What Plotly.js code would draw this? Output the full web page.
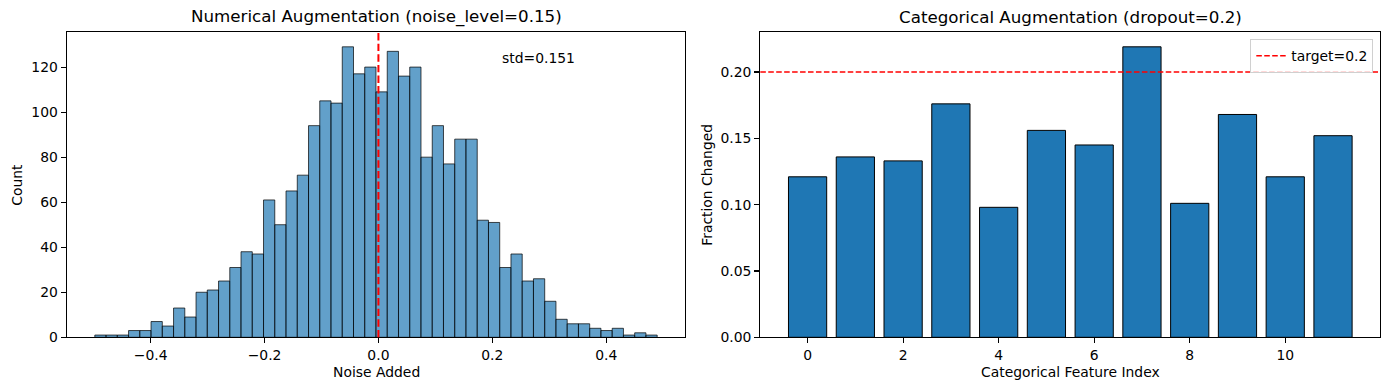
<!DOCTYPE html>
<html>
<head>
<meta charset="utf-8">
<script src="https://cdn.plot.ly/plotly-3.0.1.min.js"></script>
<style>
  html, body { margin: 0; padding: 0; background: #fff; }
  #chart { width: 1389px; height: 390px; }
</style>
</head>
<body>
<div id="chart"></div>
<script>
// ---- Data ----
// Left: histogram of noise added (50 bins)
const noiseBinStart = -0.498;
const noiseBinWidth = 0.01975;
const noiseCounts = [1,1,1,3,3,7,5,13,9,20,21,25,31,38,37,61,50,65,72,94,105,104,129,117,120,
                     109,127,116,120,80,94,77,88,88,52,51,31,37,25,26,16,8,6,6,4,3,4,1,2,1];
const noiseStdLabel = "std=0.151";
const noiseLevel = 0.15;

// Right: fraction changed per categorical feature
const catFeatureIndex = [0,1,2,3,4,5,6,7,8,9,10,11];
const fractionChanged = [0.121,0.136,0.133,0.176,0.098,0.156,0.145,0.219,0.101,0.168,0.121,0.152];
const dropoutTarget = 0.2;

// ---- Derived bin centres ----
const noiseBinCenters = noiseCounts.map((_, i) => noiseBinStart + (i + 0.5) * noiseBinWidth);
const noiseMin = noiseBinStart, noiseMax = noiseBinStart + noiseCounts.length * noiseBinWidth;
const noiseSpan = noiseMax - noiseMin;
const maxCount = Math.max(...noiseCounts);
const maxFrac = Math.max(...fractionChanged);

const FONT = "DejaVu Sans, Liberation Sans, sans-serif";
const W = 1389, H = 390;
const dom1 = [66.7 / W, 685.3 / W];
const dom2 = [760.3 / W, 1380.3 / W];
const ydom = [(H - 337.3) / H, (H - 32.3) / H];

const axisCommon = {
  showline: true, mirror: true, linecolor: "#000", linewidth: 1.1,
  ticks: "outside", ticklen: 5, tickwidth: 1.1, tickcolor: "#000",
  showgrid: false, zeroline: false,
  tickfont: { family: FONT, size: 13.9, color: "#000" },
  fixedrange: true
};

const traces = [
  {
    type: "bar", x: noiseBinCenters, y: noiseCounts, width: noiseBinWidth,
    xaxis: "x", yaxis: "y", showlegend: false,
    marker: { color: "rgba(31,119,180,0.7)", line: { color: "rgba(0,0,0,0.7)", width: 1 } },
    hoverinfo: "x+y"
  },
  {
    type: "bar", x: catFeatureIndex, y: fractionChanged, width: 0.8,
    xaxis: "x2", yaxis: "y2", showlegend: false,
    marker: { color: "#1f77b4", line: { color: "#000", width: 1 } },
    hoverinfo: "x+y"
  }
];

const layout = {
  width: W, height: H,
  margin: { l: 0, r: 0, t: 0, b: 0 },
  paper_bgcolor: "#fff", plot_bgcolor: "#fff",
  bargap: 0,
  font: { family: FONT, color: "#000" },
  showlegend: true,
  xaxis: Object.assign({}, axisCommon, {
    domain: dom1, anchor: "y",
    range: [noiseMin - 0.05 * noiseSpan, noiseMax + 0.05 * noiseSpan],
    tickvals: [-0.4, -0.2, 0.0, 0.2, 0.4], tickformat: ".1f"
  }),
  yaxis: Object.assign({}, axisCommon, {
    domain: ydom, anchor: "x",
    range: [0, maxCount * 1.05],
    tickvals: [0, 20, 40, 60, 80, 100, 120]
  }),
  xaxis2: Object.assign({}, axisCommon, {
    domain: dom2, anchor: "y2",
    range: [-0.4 - 0.59, 11.4 + 0.59],
    tickvals: [0, 2, 4, 6, 8, 10]
  }),
  yaxis2: Object.assign({}, axisCommon, {
    domain: ydom, anchor: "x2",
    range: [0, maxFrac * 1.05],
    tickvals: [0, 0.05, 0.10, 0.15, 0.20], tickformat: ".2f"
  }),
  shapes: [
    {
      type: "line", xref: "x", yref: "y domain", x0: 0, x1: 0, y0: 0, y1: 1,
      line: { color: "red", width: 2, dash: "7.4px,3.2px" }, layer: "above"
    },
    {
      type: "line", xref: "x2 domain", yref: "y2", x0: 0, x1: 1, y0: dropoutTarget, y1: dropoutTarget,
      line: { color: "red", width: 1.5, dash: "5.55px,2.4px" }, layer: "above",
      showlegend: true, name: "target=" + dropoutTarget
    }
  ],
  legend: {
    x: 1373.3 / W, xanchor: "right", y: (H - 39.3) / H, yanchor: "top",
    bgcolor: "rgba(255,255,255,0.8)", bordercolor: "#d0d0d0", borderwidth: 1,
    font: { family: FONT, size: 13.9, color: "#000" },
    itemwidth: 30, tracegroupgap: 0
  },
  annotations: [
    {
      text: "Numerical Augmentation (noise_level=" + noiseLevel + ")",
      xref: "paper", yref: "paper", x: (dom1[0] + dom1[1]) / 2, y: ydom[1],
      xanchor: "center", yanchor: "bottom", yshift: 3, showarrow: false,
      font: { family: FONT, size: 16.7, color: "#000" }
    },
    {
      text: "Categorical Augmentation (dropout=" + dropoutTarget + ")",
      xref: "paper", yref: "paper", x: (dom2[0] + dom2[1]) / 2, y: ydom[1],
      xanchor: "center", yanchor: "bottom", yshift: 3, showarrow: false,
      font: { family: FONT, size: 16.7, color: "#000" }
    },
    {
      text: noiseStdLabel, xref: "x domain", yref: "y domain", x: 0.7, y: 0.95,
      xanchor: "left", yanchor: "top", showarrow: false,
      font: { family: FONT, size: 13.9, color: "#000" }
    },
    {
      text: "Noise Added", xref: "paper", yref: "paper", x: (dom1[0] + dom1[1]) / 2, y: (H - 372) / H,
      xanchor: "center", yanchor: "middle", showarrow: false,
      font: { family: FONT, size: 13.9, color: "#000" }
    },
    {
      text: "Categorical Feature Index", xref: "paper", yref: "paper", x: (dom2[0] + dom2[1]) / 2, y: (H - 372) / H,
      xanchor: "center", yanchor: "middle", showarrow: false,
      font: { family: FONT, size: 13.9, color: "#000" }
    },
    {
      text: "Count", xref: "paper", yref: "paper", x: 17 / W, y: (ydom[0] + ydom[1]) / 2,
      xanchor: "center", yanchor: "middle", textangle: -90, showarrow: false,
      font: { family: FONT, size: 13.9, color: "#000" }
    },
    {
      text: "Fraction Changed", xref: "paper", yref: "paper", x: 707 / W, y: (ydom[0] + ydom[1]) / 2,
      xanchor: "center", yanchor: "middle", textangle: -90, showarrow: false,
      font: { family: FONT, size: 13.9, color: "#000" }
    }
  ]
};

Plotly.newPlot("chart", traces, layout, { displayModeBar: false, staticPlot: true });
</script>
</body>
</html>
